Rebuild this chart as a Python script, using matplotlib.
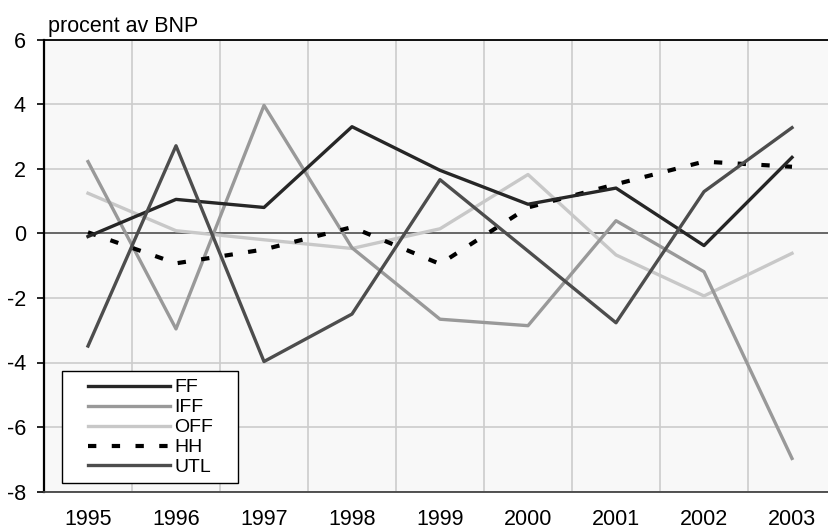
import matplotlib.pyplot as plt
from matplotlib.patches import Rectangle

plt.rcParams["font.family"] = ["Liberation Sans", "DejaVu Sans"]
plt.rcParams["axes.unicode_minus"] = False

years = ["1995", "1996", "1997", "1998", "1999", "2000", "2001", "2002", "2003"]

ff = [-0.1, 1.05, 0.8, 3.3, 1.95, 0.9, 1.4, -0.38, 2.35]
iff = [2.22, -2.96, 3.96, -0.45, -2.66, -2.86, 0.39, -1.19, -6.97]
off = [1.24, 0.08, -0.2, -0.47, 0.14, 1.82, -0.67, -1.94, -0.62]
hh = [0.03, -0.93, -0.5, 0.19, -0.95, 0.8, 1.52, 2.22, 2.06]
utl = [-3.49, 2.71, -3.97, -2.5, 1.66, -0.55, -2.77, 1.29, 3.27]

fig = plt.figure(figsize=(8.29, 5.31), dpi=100)
ax = fig.add_axes([44 / 829, 1 - 491.7 / 531, 785 / 829, 452.2 / 531])
ax.set_facecolor("#f8f8f8")

x = range(len(years))
lw = 2.4
ax.plot(x, off, color="#c8c8c8", lw=lw, label="OFF", zorder=3)
ax.plot(x, iff, color="#999999", lw=lw, label="IFF", zorder=3)
ax.plot(x, hh, color="#000000", lw=3, ls=(0, (2, 3.7)), label="HH", zorder=4)
ax.plot(x, ff, color="#262626", lw=lw, label="FF", zorder=4)
ax.plot(x, utl, color="#4d4d4d", lw=lw, label="UTL", zorder=4)

ax.set_xlim(-0.5, 785 / 88 - 0.5)
ax.set_ylim(-8, 6)
ax.set_xticks(list(x))
ax.set_xticklabels(years, fontsize=15.5)
ax.set_xticks([i + 0.5 for i in range(8)], minor=True)
ax.set_yticks(range(-8, 7, 2))
ax.tick_params(axis="y", labelsize=15.5, length=5, width=1.2, direction="out", pad=8)
ax.tick_params(axis="x", which="major", length=0, pad=12.5)
ax.tick_params(axis="x", which="minor", length=0)

ax.grid(axis="y", color="#cccccc", lw=1.2, zorder=1)
ax.grid(axis="x", which="minor", color="#cccccc", lw=1.2, zorder=1)
ax.axhline(0, color="#555555", lw=1.2, zorder=2)

ax.spines["right"].set_visible(False)
ax.spines["left"].set_linewidth(1.6)
ax.spines["top"].set_linewidth(1.3)
ax.spines["bottom"].set_color("#444444")
ax.spines["bottom"].set_linewidth(1.3)

fig.text(48 / 829, 1 - 32 / 531, "procent av BNP", fontsize=15.5, va="baseline", ha="left")

# legend box drawn by hand, legend itself without frame
ax.add_patch(Rectangle((18 / 785, 8.4 / 452.2), 176 / 785, 112 / 452.2,
                       transform=ax.transAxes, facecolor="white",
                       edgecolor="black", lw=1, zorder=5))
handles, labels = ax.get_legend_handles_labels()
order = ["FF", "IFF", "OFF", "HH", "UTL"]
hmap = dict(zip(labels, handles))
leg = ax.legend([hmap[k] for k in order], order, loc="upper left",
                bbox_to_anchor=(40 / 785, (491.7 - 375) / 452.2), frameon=False,
                fontsize=14, handlelength=4.2, handletextpad=0.25,
                labelspacing=0.12, borderpad=0.2, borderaxespad=0)
leg.set_zorder(6)

fig.savefig("out.png", dpi=100)
